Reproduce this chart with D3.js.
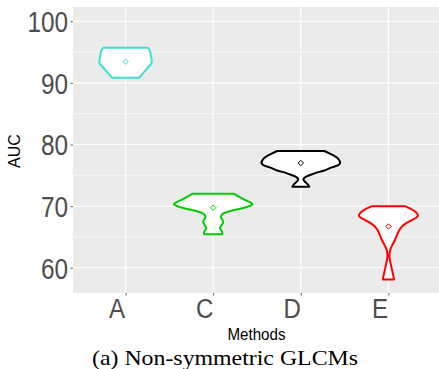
<!DOCTYPE html>
<html lang="en">
<head>
<meta charset="utf-8">
<title>violins</title>
<script src="https://cdn.jsdelivr.net/npm/d3@7"></script>
<style>
  body { margin: 0; background: #fff; }
</style>
</head>
<body>
<svg width="439" height="369"></svg>
<script>
// categories and summary values
var methods = ["A", "C", "D", "E"];
var means = [93.45, 69.74, 77.0, 66.7];
var yTicks = [60, 70, 80, 90, 100];
var yMinor = [65, 75, 85, 95];

// violin outlines: [AUC, relative density]
var violinA = [[95.7,0.571],[95.2,0.614],[94.8,0.635],[94.3,0.642],[93.8,0.66],[93.2,0.66],[92.5,0.569],[91.7,0.462],[90.84,0.343]];
var violinC = [[72.0,0.533],[71.5,0.66],[71.0,0.812],[70.6,0.939],[70.3,1.0],[70.0,0.914],[69.6,0.711],[69.25,0.457],[68.8,0.254],[68.3,0.195],[67.9,0.223],[67.47,0.254],[66.9,0.216],[66.4,0.17],[65.85,0.228],[65.42,0.228]];
var violinD = [[78.95,0.596],[78.6,0.711],[78.2,0.838],[77.8,0.926],[77.4,0.977],[77.05,1.0],[76.67,0.957],[76.3,0.787],[75.75,0.576],[75.4,0.381],[75.05,0.236],[74.7,0.114],[74.35,0.063],[74.0,0.10],[73.6,0.165],[73.15,0.216]];
var violinE = [[70.0,0.419],[69.6,0.558],[69.2,0.66],[68.8,0.723],[68.45,0.749],[68.1,0.698],[67.7,0.584],[67.2,0.444],[66.7,0.343],[66.0,0.266],[65.3,0.216],[64.5,0.165],[63.7,0.10],[63.0,0.05],[62.4,0.03],[61.8,0.025],[61.2,0.038],[60.5,0.063],[59.7,0.089],[59.0,0.114],[58.1,0.14]];
var violins = [violinA, violinC, violinD, violinE];

var colors = ["#40E0D0", "#00CD00", "#000000", "#FF0000"];

var svg = d3.select("svg");
var panelL = 73, panelT = 7, panelB = 293, panelR = 441;

var x = d3.scalePoint().domain(methods).range([panelL, panelR]).padding(0.6);
var y = d3.scaleLinear().domain([55.9, 102.32]).range([panelB, panelT]);
var w = d3.scaleLinear().domain([0, 1]).range([0, 0.45 * x.step()]);

// panel
svg.append("rect")
  .attr("x", panelL).attr("y", panelT)
  .attr("width", 439 - panelL).attr("height", panelB - panelT)
  .attr("fill", "#EBEBEB");

var grid = svg.append("g");
grid.selectAll(".minor").data(yMinor).enter().append("line")
  .attr("x1", panelL).attr("x2", 439)
  .attr("y1", function(d){ return y(d); }).attr("y2", function(d){ return y(d); })
  .attr("stroke", "#fff").attr("stroke-width", 0.6);
grid.selectAll(".major").data(yTicks).enter().append("line")
  .attr("x1", panelL).attr("x2", 439)
  .attr("y1", function(d){ return y(d); }).attr("y2", function(d){ return y(d); })
  .attr("stroke", "#fff").attr("stroke-width", 1.2);
grid.selectAll(".vmajor").data(methods).enter().append("line")
  .attr("x1", function(d){ return x(d); }).attr("x2", function(d){ return x(d); })
  .attr("y1", panelT).attr("y2", panelB)
  .attr("stroke", "#fff").attr("stroke-width", 1.2);

// axes
var yAxis = svg.append("g")
  .attr("transform", "translate(" + panelL + ",0)")
  .call(d3.axisLeft(y).tickValues(yTicks).tickSize(2.5).tickPadding(0));
yAxis.select(".domain").remove();
yAxis.selectAll(".tick line").attr("stroke", "#333").attr("stroke-width", 0.8);
yAxis.selectAll(".tick text")
  .attr("font-family", "Liberation Sans, Arial, sans-serif")
  .attr("font-size", 29)
  .attr("fill", "#4D4D4D")
  .attr("x", -5 / 0.84)
  .attr("dy", "0.36em")
  .attr("transform", "scale(0.84,1)");

var xAxis = svg.append("g")
  .attr("transform", "translate(0," + panelB + ")")
  .call(d3.axisBottom(x).tickSize(2.5).tickPadding(0));
xAxis.select(".domain").remove();
xAxis.selectAll(".tick line").attr("stroke", "#333").attr("stroke-width", 0.8);
xAxis.selectAll(".tick text")
  .attr("font-family", "Liberation Sans, Arial, sans-serif")
  .attr("font-size", 28)
  .attr("fill", "#4D4D4D")
  .attr("dy", null)
  .attr("y", 25)
  .attr("x", -9 / 0.86)
  .attr("transform", "scale(0.86,1)");

// violins
var area = d3.area()
  .y(function(d){ return y(d[0]); })
  .curve(d3.curveCatmullRom);

violins.forEach(function(v, i) {
  var cx = x(methods[i]);
  area.x0(function(d){ return cx - w(d[1]); })
      .x1(function(d){ return cx + w(d[1]); });
  svg.append("path")
    .datum(v)
    .attr("d", area)
    .attr("fill", "#fff")
    .attr("stroke", colors[i])
    .attr("stroke-width", 2)
    .attr("stroke-linejoin", "round");
});

// mean points (open diamonds)
svg.selectAll(".mean").data(means).enter().append("path")
  .attr("d", function(d, i) {
    var cx = x(methods[i]), cy = y(d), r = 2.7;
    return "M" + cx + "," + (cy - r) + "L" + (cx + r) + "," + cy + "L" + cx + "," + (cy + r) + "L" + (cx - r) + "," + cy + "Z";
  })
  .attr("fill", "none")
  .attr("stroke", function(d, i){ return colors[i]; })
  .attr("stroke-width", 1);

// titles
svg.append("text")
  .attr("x", 256.5).attr("y", 340)
  .attr("text-anchor", "middle")
  .attr("font-family", "Liberation Sans, Arial, sans-serif")
  .attr("font-size", 16)
  .attr("textLength", 58).attr("lengthAdjust", "spacingAndGlyphs")
  .text("Methods");

svg.append("text")
  .attr("transform", "translate(20,151) rotate(-90)")
  .attr("text-anchor", "middle")
  .attr("font-family", "Liberation Sans, Arial, sans-serif")
  .attr("font-size", 16)
  .text("AUC");

svg.append("text")
  .attr("x", 225).attr("y", 365)
  .attr("text-anchor", "middle")
  .attr("font-family", "Liberation Serif, Times New Roman, serif")
  .attr("font-size", 22)
  .attr("textLength", 266).attr("lengthAdjust", "spacingAndGlyphs")
  .text("(a) Non-symmetric GLCMs");
</script>
</body>
</html>
